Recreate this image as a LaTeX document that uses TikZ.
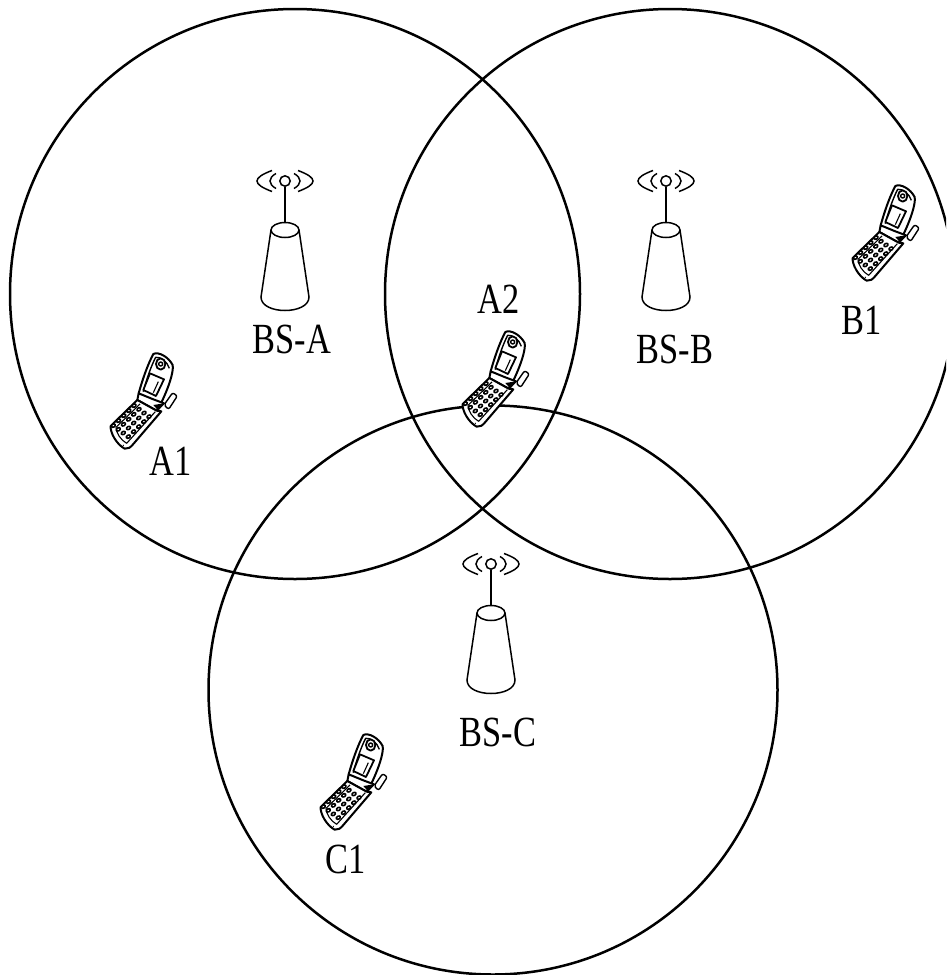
\documentclass[tikz,border=0pt]{standalone}
\usepackage{fontspec}
\setmainfont{Liberation Serif}
\begin{document}
\begin{tikzpicture}[x=1pt,y=-1pt,
  cell/.style={line width=2.5pt,draw=black},
  lbl/.style={inner sep=0pt,font=\fontsize{43}{43}\selectfont,xscale=.8,transform shape},
  ink/.style={line width=1.4pt,draw=black,line join=round},
  thinink/.style={line width=1.1pt,draw=black,line join=round},
  bsline/.style={line width=1.5pt,draw=black},
  phone/.pic={
    \begin{scope}[x=.3333pt,y=-.3333pt]
      % antenna
      \draw[ink,fill=white,rounded corners=2pt] (222,195) -- (248,158) -- (262,168) -- (236,208) -- cycle;
      % flap
      \draw[ink,fill=white,line width=2pt] (146,160) .. controls (160,110) and (175,70) .. (190,42)
        .. controls (205,34) and (235,50) .. (248,75) .. controls (252,95) and (235,145) .. (212,192)
        -- (190,190) -- cycle;
      \draw[ink] (160,155) .. controls (170,115) and (185,75) .. (197,52) .. controls (212,50) and (232,65) .. (238,85);
      % screen
      \draw[ink,fill=white,line width=1.8pt] (180,100) -- (222,118) -- (198,168) -- (160,150) -- cycle;
      \draw[thinink] (205,125) -- (190,158);
      % earpiece
      \draw[ink,fill=white,line width=1.8pt] (212,72) ellipse [x radius=14,y radius=17];
      \draw[ink] (212,72) circle (6);
      % hinge
      \draw[ink,fill=white,line width=2pt] (146,160) -- (142,180) -- (200,212) -- (222,190) -- (190,178) -- cycle;
      \fill[black] (190,195) -- (222,190) -- (205,212) -- cycle;
      % body
      \draw[ink,fill=white,line width=2pt] (142,180) -- (62,258) .. controls (60,276) and (78,312) .. (104,326)
        .. controls (114,328) and (122,322) .. (130,312) -- (214,214) -- (200,212) -- cycle;
      \draw[thinink] (150,192) -- (78,262) .. controls (78,278) and (92,300) .. (110,310) -- (196,215);
      % keys
      \foreach \i in {0,...,4}{
        \foreach \j in {0,...,3}{
          \fill[black,shift={(132+\j*15-\i*15.5,197+\j*11+\i*15)},rotate=30]
            (0,0) ellipse [x radius=9,y radius=7];
          \fill[white,shift={(132+\j*15-\i*15.5,197+\j*11+\i*15)},rotate=30]
            (0,0) ellipse [x radius=3.5,y radius=2];
        }
      }
      \fill[black] (100,316) circle (2);
    \end{scope}
  },
  basestation/.pic={
    \begin{scope}[x=1pt,y=-1pt]
      \draw[bsline] (0,6) -- (0,42);
      \draw[bsline] (0,0) circle (5.2);
      \draw[bsline] (-9,-7.5) .. controls (-17,-3) and (-17,3) .. (-9,7.5);
      \draw[bsline] (9,-7.5) .. controls (17,-3) and (17,3) .. (9,7.5);
      \draw[bsline] (-13,-10.5) .. controls (-33,-3) and (-33,3) .. (-13,10.5);
      \draw[bsline] (13,-10.5) .. controls (33,-3) and (33,3) .. (13,10.5);
      \draw[bsline] (0,49) ellipse [x radius=14,y radius=7.5];
      \draw[bsline] (-14,49) -- (-24,116) .. controls (-24,134) and (24,134) .. (24,116) -- (14,49);
    \end{scope}
  }
]
\useasboundingbox (0,0) rectangle (946,975);
\begin{scope}
\clip (0,0) rectangle (946,975);
\draw[cell] (295,294) circle (285);
\draw[cell] (670,294) circle (285);
\draw[cell] (493,690) circle (284.5);
\end{scope}

\pic at (285,181) {basestation};
\pic at (666,181) {basestation};
\pic at (491,564) {basestation};

\pic at (90,340) {phone};
\pic at (832,172) {phone};
\pic at (442,318) {phone};
\pic at (300,721) {phone};

\node[lbl] (bsa) at (292,339) {BS-A};
\node[lbl] (bsb) at (675,349) {BS-B};
\node[lbl] (bsc) at (498,732) {BS-C};
\node[lbl] (a1) at (171,461) {A1};
\node[lbl] (a2) at (499,299) {A2};
\node[lbl] (b1) at (862,320) {B1};
\node[lbl] (c1) at (346,859) {C1};
\end{tikzpicture}
\end{document}
